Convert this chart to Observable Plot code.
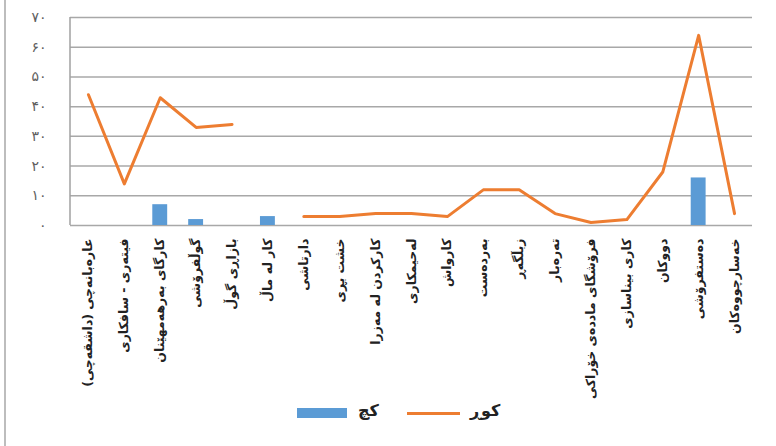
<!DOCTYPE html>
<html>
<head>
<meta charset="utf-8">
<script src="https://cdn.jsdelivr.net/npm/d3@7"></script>
<script src="https://cdn.jsdelivr.net/npm/@observablehq/plot@0.6"></script>
<style>
  html, body { margin: 0; padding: 0; background: #fff; }
  #wrap { position: relative; width: 776px; height: 446px; overflow: hidden; }
  #wrap::before { content: ""; position: absolute; left: 4px; top: 0; bottom: 0; width: 2px; background: #bdbdbd; }
  #legend { position: absolute; left: 0; top: 400px; width: 776px; height: 30px; font-family: "DejaVu Sans", sans-serif; font-weight: bold; font-size: 16px; color: #222; }
  .sw { position: absolute; }
  .lb { position: absolute; top: 1px; }
</style>
</head>
<body>
<div id="wrap"><div id="chart"></div>
<div id="legend">
  <div class="sw" style="left:297px; top:8px; width:50px; height:10px; background:#5B9BD5"></div>
  <div class="lb" style="left:358px;">کچ</div>
  <div class="sw" style="left:407px; top:12px; width:53px; height:3px; background:#ED7D31"></div>
  <div class="lb" style="left:470px;">کوڕ</div>
</div>
</div>
<script>
const categories = [
  "عارەبانەچی (داشقەچی)\u200F",
  "فیتەری - سافکاری",
  "کارگای بەرهەمهێنان",
  "گوڵفرۆشی",
  "بازاڕی گوڵ",
  "کار لە ماڵ",
  "دارتاشی",
  "خشت بڕی",
  "کارکردن لە مەزرا",
  "لەحیمکاری",
  "کارواش",
  "بەردەست",
  "زبڵگەڕ",
  "تەرەبار",
  "فرۆشگای ماددەی خۆراکی",
  "کاری بیناسازی",
  "دووکان",
  "دەستفرۆشی",
  "خەسارچووەکان"
];
const boys  = [44, 14, 43, 33, 34, null, 3, 3, 4, 4, 3, 12, 12, 4, 1, 2, 18, 64, 4];
const girls = [0, 0, 7, 2, 0, 3, 0, 0, 0, 0, 0, 0, 0, 0, 0, 0, 0, 16, 0];
const yTicks = [0, 10, 20, 30, 40, 50, 60, 70];
const tickLabels = ["۰", "۱۰", "۲۰", "۳۰", "۴۰", "۵۰", "۶۰", "۷۰"];

const data = categories.map((c, i) => ({cat: c, boy: boys[i], girl: girls[i]}));

const chart = Plot.plot({
  width: 776,
  height: 400,
  marginLeft: 70,
  marginRight: 24,
  marginTop: 17,
  marginBottom: 175,
  x: {domain: categories, padding: 0, round: false, label: null},
  y: {domain: [0, 70], label: null},
  marks: [
    Plot.ruleY(yTicks, {stroke: "#a8a8a8", strokeWidth: 1.5}),
    Plot.axisY({ticks: yTicks, tickSize: 0, tickPadding: 24, fontSize: 14,
      tickFormat: d => tickLabels[yTicks.indexOf(d)], fill: "#606060", label: null}),
    Plot.barY(data.filter(d => d.girl > 0), {x: "cat", y: "girl", fill: "#5B9BD5", insetLeft: 10.5, insetRight: 10.5}),
    Plot.lineY(data, {x: "cat", y: "boy", stroke: "#ED7D31", strokeWidth: 3, defined: d => d.boy != null}),
    Plot.axisX({tickSize: 0, tickPadding: 13, tickRotate: -90, fontSize: 12.5, fontWeight: "bold", fill: "#222", label: null, fontFamily: "DejaVu Sans"})
  ],
  style: {fontFamily: "DejaVu Sans, sans-serif", background: "transparent"}
});
// left axis line along the x scale's start
const xs = chart.scale("x"), ys = chart.scale("y");
const x0 = xs.range[0];
const ns = "http://www.w3.org/2000/svg";
const ln = document.createElementNS(ns, "line");
ln.setAttribute("x1", x0); ln.setAttribute("x2", x0);
ln.setAttribute("y1", ys.range[0]); ln.setAttribute("y2", ys.range[1]);
ln.setAttribute("stroke", "#a0a0a0"); ln.setAttribute("stroke-width", "1.5");
chart.appendChild(ln);
document.getElementById("chart").appendChild(chart);
</script>
</body>
</html>
